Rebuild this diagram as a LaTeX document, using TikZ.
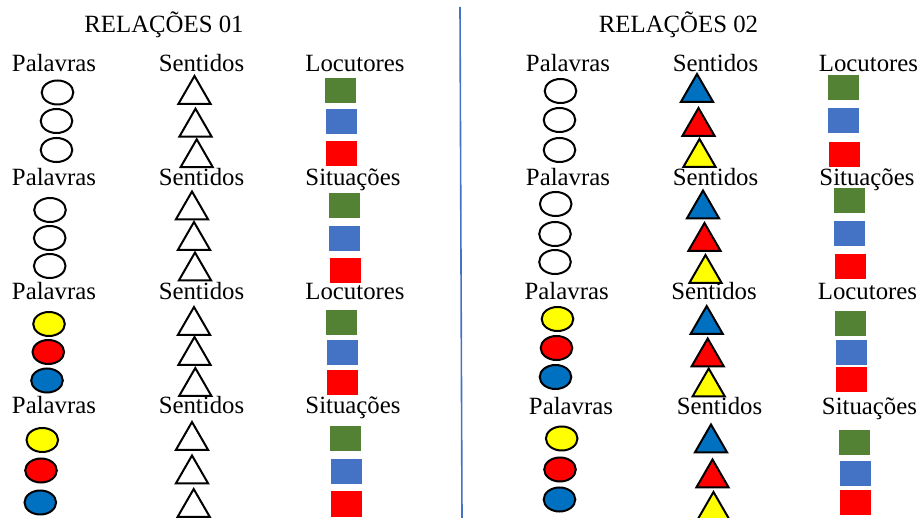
\documentclass[tikz,border=0pt]{standalone}
\usepackage{fontspec}
\setmainfont{Liberation Serif}
\usepackage{xcolor}
\usepackage{tikz}
\usetikzlibrary{shapes.geometric}

\definecolor{verde}{HTML}{548235}
\definecolor{azul}{HTML}{4472C4}
\definecolor{vermelho}{HTML}{FF0000}
\definecolor{amarelo}{HTML}{FFFF00}
\definecolor{azulforte}{HTML}{0070C0}

\begin{document}
\begin{tikzpicture}[
		x=0.5pt, y=-0.5pt,
		rotulo/.style={
			anchor=base,
			inner sep=0pt,
			font=\fontsize{12.4}{15}\selectfont
		},
		palavra/.style={
			ellipse,
			draw,
			line width=1pt,
			inner sep=0pt,
			minimum width=15.8pt,
			minimum height=12pt
		},
		sentido/.style={
			regular polygon,
			regular polygon sides=3,
			draw,
			line width=1pt,
			inner sep=0pt,
			minimum size=18.6pt,
			yshift=-2.3pt
		},
		locutor/.style={
			rectangle,
			inner sep=0pt,
			minimum width=15.5pt,
			minimum height=12.5pt
		},
		divisa/.style={azul, line width=0.8pt}
		]
		\useasboundingbox (0,0) rectangle (922,518);

		% left panel
		\node[rotulo] (tit-a) at (164,33) {RELAÇÕES 01};

		\node[rotulo] (pal-a1) at (54,72) {Palavras};
		\node[rotulo] (sen-a1) at (201.5,72) {Sentidos};
		\node[rotulo] (loc-a1) at (355,72) {Locutores};
		\node[palavra] (ea11) at (57.5,92.5) {};
		\node[palavra] (ea12) at (56.5,121) {};
		\node[palavra] (ea13) at (56.5,150) {};
		\node[sentido] (ta11) at (194.5,90) {};
		\node[sentido] (ta12) at (195.5,122.7) {};
		\node[sentido] (ta13) at (196.7,153.3) {};
		\node[locutor, fill=verde] (qa11) at (340.5,90.5) {};
		\node[locutor, fill=azul] (qa12) at (341,121.7) {};
		\node[locutor, fill=vermelho] (qa13) at (341.7,154) {};

		\node[rotulo] (pal-a2) at (54,186) {Palavras};
		\node[rotulo] (sen-a2) at (201.5,186) {Sentidos};
		\node[rotulo] (sit-a2) at (353,186) {Situações};
		\node[palavra] (ea21) at (50,210) {};
		\node[palavra] (ea22) at (49.7,238) {};
		\node[palavra] (ea23) at (49.7,266) {};
		\node[sentido] (ta21) at (192,205.5) {};
		\node[sentido] (ta22) at (194,236) {};
		\node[sentido] (ta23) at (195,266.5) {};
		\node[locutor, fill=verde] (qa21) at (344.5,205.5) {};
		\node[locutor, fill=azul] (qa22) at (344.5,238.5) {};
		\node[locutor, fill=vermelho] (qa23) at (345.5,270.5) {};

		\node[rotulo] (pal-a3) at (54,300) {Palavras};
		\node[rotulo] (sen-a3) at (201.5,300) {Sentidos};
		\node[rotulo] (loc-a3) at (355,300) {Locutores};
		\node[palavra, fill=amarelo] (ea31) at (49,324) {};
		\node[palavra, fill=vermelho] (ea32) at (48.3,352) {};
		\node[palavra, fill=azulforte] (ea33) at (47,380.5) {};
		\node[sentido] (ta31) at (194,321) {};
		\node[sentido] (ta32) at (194.5,351) {};
		\node[sentido] (ta33) at (195.3,382) {};
		\node[locutor, fill=verde] (qa31) at (341.7,322.5) {};
		\node[locutor, fill=azul] (qa32) at (342.5,353) {};
		\node[locutor, fill=vermelho] (qa33) at (342.5,382.5) {};

		\node[rotulo] (pal-a4) at (54,414) {Palavras};
		\node[rotulo] (sen-a4) at (201.5,414) {Sentidos};
		\node[rotulo] (sit-a4) at (353,414) {Situações};
		\node[palavra, fill=amarelo] (ea41) at (42.3,440) {};
		\node[palavra, fill=vermelho] (ea42) at (41,470.5) {};
		\node[palavra, fill=azulforte] (ea43) at (40.3,502.5) {};
		\node[sentido] (ta41) at (192,436) {};
		\node[sentido] (ta42) at (192,469.5) {};
		\node[sentido] (ta43) at (193.7,503) {};
		\node[locutor, fill=verde] (qa41) at (345,438.5) {};
		\node[locutor, fill=azul] (qa42) at (346,471.5) {};
		\node[locutor, fill=vermelho] (qa43) at (346,504) {};

		% divider
		\coordinate (div-top) at (460,7);
		\coordinate (div-bot) at (462,518);
		\draw[divisa] (div-top) -- (div-bot);

		% right panel
		\node[rotulo] (tit-b) at (678.5,33) {RELAÇÕES 02};

		\node[rotulo] (pal-b1) at (568,72) {Palavras};
		\node[rotulo] (sen-b1) at (715.5,72) {Sentidos};
		\node[rotulo] (loc-b1) at (868.5,72) {Locutores};
		\node[palavra] (eb11) at (560.5,91) {};
		\node[palavra] (eb12) at (559.5,120) {};
		\node[palavra] (eb13) at (559.5,150) {};
		\node[sentido, fill=azulforte] (tb11) at (697,88) {};
		\node[sentido, fill=vermelho] (tb12) at (698.5,122) {};
		\node[sentido, fill=amarelo] (tb13) at (699.5,153) {};
		\node[locutor, fill=verde] (qb11) at (843.5,88) {};
		\node[locutor, fill=azul] (qb12) at (843.5,121) {};
		\node[locutor, fill=vermelho] (qb13) at (844.5,154.5) {};

		\node[rotulo] (pal-b2) at (568,186) {Palavras};
		\node[rotulo] (sen-b2) at (715.5,186) {Sentidos};
		\node[rotulo] (sit-b2) at (867,186) {Situações};
		\node[palavra] (eb21) at (555.7,204) {};
		\node[palavra] (eb22) at (555,234) {};
		\node[palavra] (eb23) at (555,262) {};
		\node[sentido, fill=azulforte] (tb21) at (703,204.5) {};
		\node[sentido, fill=vermelho] (tb22) at (704.5,237) {};
		\node[sentido, fill=amarelo] (tb23) at (705.5,269) {};
		\node[locutor, fill=verde] (qb21) at (849.5,201) {};
		\node[locutor, fill=azul] (qb22) at (849.5,234) {};
		\node[locutor, fill=vermelho] (qb23) at (850.5,267) {};

		\node[rotulo] (pal-b3) at (566.7,300) {Palavras};
		\node[rotulo] (sen-b3) at (714,300) {Sentidos};
		\node[rotulo] (loc-b3) at (867.5,300) {Locutores};
		\node[palavra, fill=amarelo] (eb31) at (557.5,319) {};
		\node[palavra, fill=vermelho] (eb32) at (556.5,348) {};
		\node[palavra, fill=azulforte] (eb33) at (555.5,377) {};
		\node[sentido, fill=azulforte] (tb31) at (706.7,320) {};
		\node[sentido, fill=vermelho] (tb32) at (707.7,352.5) {};
		\node[sentido, fill=amarelo] (tb33) at (708.7,382.5) {};
		\node[locutor, fill=verde] (qb31) at (850,323.5) {};
		\node[locutor, fill=azul] (qb32) at (851,352.5) {};
		\node[locutor, fill=vermelho] (qb33) at (851,380) {};

		\node[rotulo] (pal-b4) at (571,415) {Palavras};
		\node[rotulo] (sen-b4) at (719.5,415) {Sentidos};
		\node[rotulo] (sit-b4) at (869.5,415) {Situações};
		\node[palavra, fill=amarelo] (eb41) at (561.7,438.5) {};
		\node[palavra, fill=vermelho] (eb42) at (560,469.5) {};
		\node[palavra, fill=azulforte] (eb43) at (559.5,499.5) {};
		\node[sentido, fill=azulforte] (tb41) at (711,438.5) {};
		\node[sentido, fill=vermelho] (tb42) at (712.5,473.5) {};
		\node[sentido, fill=amarelo] (tb43) at (713.5,506) {};
		\node[locutor, fill=verde] (qb41) at (854,442.5) {};
		\node[locutor, fill=azul] (qb42) at (855,473.5) {};
		\node[locutor, fill=vermelho] (qb43) at (855,502.5) {};
	\end{tikzpicture}
\end{document}
